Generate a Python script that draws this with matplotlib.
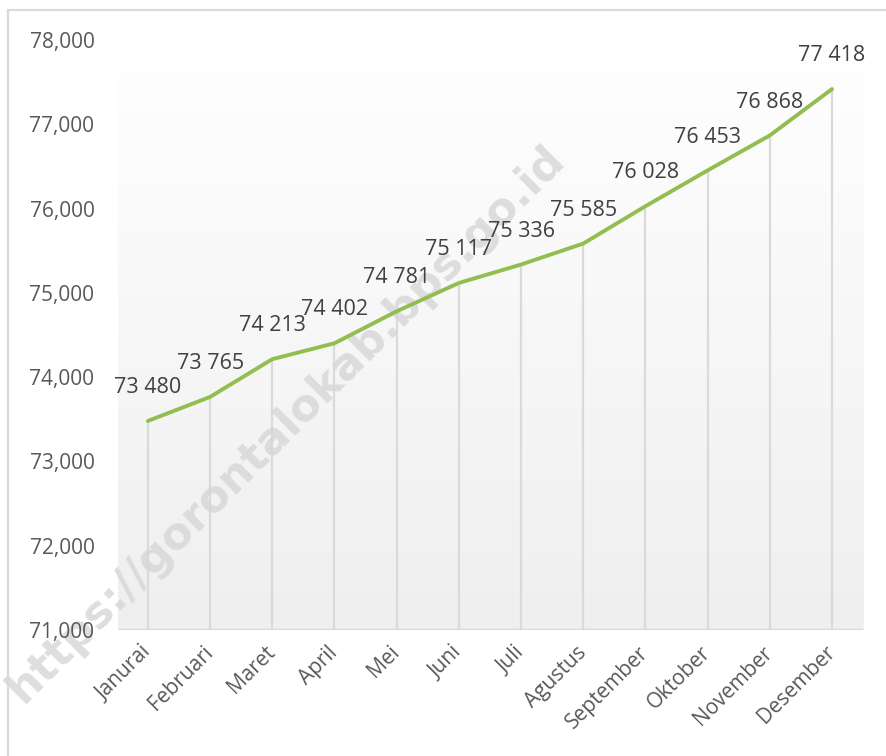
import matplotlib.pyplot as plt
import numpy as np
from matplotlib.patches import Rectangle
import matplotlib.transforms as mtransforms

# data
bulan = ["Janurai", "Februari", "Maret", "April", "Mei", "Juni", "Juli",
         "Agustus", "September", "Oktober", "November", "Desember"]
nilai = [73480, 73765, 74213, 74402, 74781, 75117, 75336,
         75585, 76028, 76453, 76868, 77418]
y_ticks = [71000, 72000, 73000, 74000, 75000, 76000, 77000, 78000]

plt.rcParams['font.family'] = ['Open Sans', 'DejaVu Sans']

fig = plt.figure(figsize=(8.86, 7.56), dpi=100)
ax = fig.add_axes([0.1332, 0.1667, 0.841, 0.7804])

x = np.arange(len(bulan))
ax.set_xlim(-0.48, 11.5)
ax.set_ylim(71000, 78000)

# latar gradasi area plot
grad = np.linspace(0, 1, 256).reshape(-1, 1)
ax.imshow(grad, extent=[-0.48, 11.5, 71000, 78000], aspect='auto',
          cmap=plt.matplotlib.colors.LinearSegmentedColormap.from_list(
              'g', ['#efefef', '#ffffff']), origin='lower', zorder=0)

# garis vertikal
ax.vlines(x, 71000, nilai, color='#dadada', lw=1.6, zorder=1)
ax.axhline(71000, color='#d9d9d9', lw=2.5, zorder=2)

ax.plot(x, nilai, color='#92be50', lw=2.8, solid_capstyle='round', zorder=3)

for xi, v in zip(x, nilai):
    ax.annotate(f"{v:,}".replace(",", " "), (xi, v), xytext=(0, 24),
                textcoords='offset points', ha='center', va='center',
                fontsize=15.5, color='#404040', zorder=4)

ax.set_xticks(x)
ax.set_xticklabels(bulan, rotation=45, ha='right', va='center',
                   rotation_mode='anchor', fontsize=15, color='#595959')
offset = mtransforms.ScaledTranslation(6 / 100, 0, fig.dpi_scale_trans)
for lbl in ax.get_xticklabels():
    lbl.set_transform(lbl.get_transform() + offset)
ax.set_yticks(y_ticks)
ax.set_yticklabels([f"{t:,}" for t in y_ticks], fontsize=15, color='#595959')
ax.tick_params(axis='both', length=0)
ax.tick_params(axis='y', pad=17)
ax.tick_params(axis='x', pad=14)
for s in ax.spines.values():
    s.set_visible(False)

# bingkai
fig.patches.append(Rectangle((8 / 886, -0.05), 1.0, 1 - 10 / 756 + 0.05,
                             transform=fig.transFigure, fill=False,
                             edgecolor='#d9d9d9', lw=1.6))

# watermark (di bawah garis dan label)
ax.text(286 / 886, 1 - 424 / 756, "https://gorontalokab.bps.go.id",
        transform=fig.transFigure, clip_on=False,
        rotation=45, ha='center', va='center', fontsize=32,
        fontweight='bold', color='#d6d6d6', alpha=0.8,
        family=['DejaVu Sans'], zorder=1.5)

fig.savefig("out.png", dpi=100)
